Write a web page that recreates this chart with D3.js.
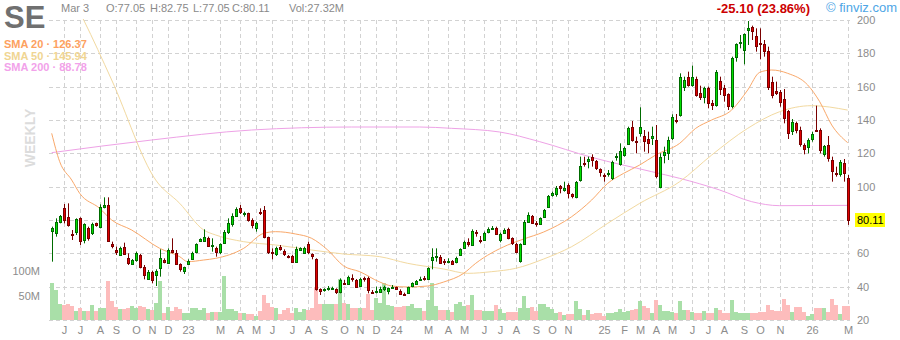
<html>
<head>
<title>SE weekly</title>
<script src="https://d3js.org/d3.v7.min.js"></script>
<style>
  body { margin: 0; background: #fff; }
  svg { font-family: Arial, "Liberation Sans", sans-serif; }
  .grid line { stroke: #d2d2d2; stroke-dasharray: 4,3; shape-rendering: crispEdges; }
  .axis text { fill: #8c8c8c; font-size: 11px; }
</style>
</head>
<body>
<svg width="900" height="340"></svg>
<script>
// weekly bars, May 9 2022 .. Mar 2 2026
const opens = [73,72.4,79,87,81.6,71.6,72.4,81,68,75.4,72,78,75.4,88,89,65.6,62,59,63.6,57,53.6,56,59,52,44.6,49,47,51,56,54.4,62,60.4,53.6,49,54,56.6,60.4,67.4,67.4,69,64.4,
  63,60.6,66.4,72.4,77.4,82.4,87,83.4,84,80,75.6,85,86,69.6,61,59.6,64,61.4,58.4,58.4,55,62,60.4,65.4,59.4,56.6,38.4,37.6,38.6,38.8,38.4,36.6,42.4,41.6,45,44,40.4,45,45,37,36.8,
  36.8,38.6,37,39.4,39.6,37.6,35.8,36,40,41.6,44.6,45,44.6,56,58,58,55.2,55.2,55.4,54.4,59,63.4,67,65.4,72.6,68,68.4,72.4,74.6,75,68,72,74.6,69,65.6,55,65.4,79,82.4,78.2,77.6,81.6,
  88,94.6,95.4,100.4,98,100.8,95.4,93.4,104,114,115.4,117.6,115.4,110.6,107,107.6,105,118,114,119,125.6,136,127.6,132,130.4,128.6,129,128,100,119.4,120.4,129,140,143,
  160,166,161,164.6,156,153.6,159,150,149,163.6,159,155.4,148,177.4,186.6,182,194,196,190.6,186,185.8,181.4,163,157.4,156.6,152.4,145.4,133.4,138,134,125,124,128.4,134,134,119.4,125,116,108.4,107.6,114,105.5];
const highs = [76,81,83,89.6,90,74,81,81.6,78,76,78.4,78.4,89.4,93.6,93.6,67,64,64,66.4,60,56.6,61,59.6,53,50,49.6,50.4,62.4,57,63,69,62,54,52,56.4,61,66,69,74.4,70,69,
  64,66,74,81,84,87.6,89,85,84.4,81,79,87,88.4,70,63,64,65,62.4,59,59,64,63.6,64,67,60,57,39,39,40.4,40,39,45,44,46.6,47.4,44.6,45.4,46,46,38,40,
  40,40.6,39.4,41,40,38.4,36.4,40,42.6,44,46,46.4,51.6,63,63,59,56.6,57,56,58,63,67.6,69,74.4,74,70.4,73,75.6,76.4,76,72.4,75,75.4,69.6,66.4,66,80,84.6,83,79.4,81.6,86.6,
  95,97,100.4,101,103,102,96,103.4,118,118,118,119.4,116,111,108,110,115.6,120,126,124,136,139.4,130,147.6,134,133,136,137,120,124,130,143.4,143.6,168,
  166,169,172.6,166,160.6,160,160,152,170,166,161,156,178,186,191,192,199.4,196.6,195,195,188,184,166,163,158,158.6,146,140.6,139,136,126,129,133,148.6,135,125,130.4,118,112,116,116.6,107];
const lows = [55,70,78,78,76,68,71,65,66,67.6,71,76,75,87,67,63,59,58.4,59,53,53,55,51,44.4,44,42,40.4,46,54,54,60,53.6,49,47.6,53,56,60,67,67,64,61,
  58,59.6,66,71.6,76,82,83.6,82,79,75,73,83,69,59.6,56.4,58.4,61.6,58.4,57,54.4,54.4,61.6,60,59.6,56.4,37.6,35,37,37.6,38,35.6,36,41,41,43,39.6,40,43,36,36,36,
  36.4,37.4,35.4,38.6,38,35.4,34.4,35.6,39.6,41,44,43.6,44,50.4,55,54,53,54,53,54,58.6,63,64,65,70,66,68,72,74,71,66.6,71.6,68.4,65,60,54.4,65,78.4,78,76,77,81.4,
  87.6,94,94,96,97,93,93,93,103,112,111,112,110,106,103,106,104,115.6,112.6,118,125,127,120,130,121,120,125,105,99,114,116,128,138,142,
  157.4,160,160,154,152,150,147,146,148,155,151,146,147,175,183,173.4,185,188,181,176.4,178,158,153,155,148,138,128.6,131,132,124,119.4,120,127,133,120,118,115,103,106,106,103,77.05];
const closes = [75,79,82.6,79.6,77,70.8,80.4,67.4,77.4,69.6,77.4,77,87.6,89,67.6,64.4,61,63,59.6,54,56,60,51.6,47,49,44.4,49.4,57,54.8,62,61,54,50.4,51.6,55.6,60,65.4,68.4,70,64.4,64.8,
  60.6,65.6,73,78,82.4,86.4,84.4,84,79.6,77,78.4,84.6,69.6,60.4,60.4,63,62.6,59.6,58,55,62.6,63,63.4,60.4,58,38.4,37,38.4,39,39,36.6,44,42,45.6,44.6,40,44.6,44.6,37.6,36.8,37.2,
  38.8,40,39,39.8,38.4,36,35.6,39.6,42,43.6,44.8,44.8,51,57.6,58.2,54.6,55,55.6,53.6,57,62.4,67,65.6,73.6,72,67.6,72.4,74.4,75,71.6,71.6,74,69,66,61,65.4,78.8,83,78.4,78,81,86,
  94.4,96,99,99,99.4,96,94,102.6,112.6,113.6,116.4,116,111,109,106.6,108,114.6,118.4,121.6,123,135,128,127.4,135.6,127.6,126.4,130.4,106.6,118,121,128,141.6,139.6,166,
  164,161,166,155,153.6,159,150,148.6,168.6,158.6,155,148,177,185.4,187,191.4,195.4,193.4,184.6,185.8,181.4,160,155,156.4,150.6,141,132,138.6,134,125.4,122.6,128,131.6,133.6,122,124.4,117,109.4,108,114.6,108,80.11];
const volumes = [77,62,33,31,33,29,18,25,18,19,31,18,24,25,81,38,27,23,23,24,29,25,29,27,23,21,34,80,15,27,19,27,23,14,14,24,25,21,25,15,17,
  16,17,90,22,22,19,14,15,12,12,8,19,51,34,27,24,12,20,24,14,25,17,22,20,24,68,33,33,33,33,33,85,34,33,24,24,24,24,53,20,45,
  35,75,31,28,27,27,29,29,33,25,25,19,42,75,29,20,20,20,17,32,36,29,31,51,20,20,18,18,18,31,23,15,17,17,17,24,49,24,26,19,33,33,
  26,22,14,16,10,12,12,38,22,10,20,12,15,15,8,14,14,17,22,17,19,20,22,40,29,24,15,41,31,19,19,17,15,38,
  20,20,17,15,15,18,15,15,25,20,15,15,41,17,15,15,15,15,15,17,17,31,20,18,18,43,31,17,27,27,17,8,12,24,24,24,17,43,31,12,29,28];

// moving averages at sample weeks (week index)
const sma20Weeks = [0,2,5,7,12,15,20,27,32,34,38,41,48,53,56,61,65,69,73,77,82,85,89,94,98,103,106,114,118,123,130,135,139,143,147,151,157,161,165,170,174,177,180,184,189,192,195,199];
const sma20 = [132,115,104,96,87,80,74,63,58,55,56,57,63,72,73,71.6,69,62,52.4,49,42.8,40.4,39.8,40.4,42.8,48,54,65,68.6,72.8,82,92,102,108,113,119,126,135,140,146,158,168.6,170,168,161,151,137,126.37];
const sma50Weeks = [0,8,15,26,32,38,41,48,56,65,73,82,89,98,104,110,116,123,130,139,147,157,165,174,182,190,199];
const sma50 = [236,200,164,104,90,74,71,67,65,62,59.6,58,54,50.6,48,49,51,56.6,64,78,90,103,119,135,145,148.6,145.94];
const sma200Weeks = [0,25,50,75,92,100,112,122,135,150,157,167,175,182,199];
const sma200 = [120.4,128,134,135.8,135.8,135,132.8,127,117.6,109,105,98,91,88.6,88.78];

const priceTicks = [20,40,60,80,100,120,140,160,180,200];
const volTicks = [50,100];
const volLabels = ['50M','100M'];
const tickMonths = ['2022-06','2022-07','2022-08','2022-09','2022-10','2022-11','2022-12','2023-01','2023-03','2023-04','2023-05','2023-06','2023-07','2023-08','2023-09','2023-10','2023-11','2023-12',
  '2024-01','2024-03','2024-04','2024-05','2024-06','2024-07','2024-08','2024-09','2024-10','2024-11','2025-01','2025-02','2025-03','2025-04','2025-05','2025-06','2025-07','2025-08','2025-09','2025-10','2025-11','2026-01','2026-03'];
const tickLabels = ['J','J','A','S','O','N','D','23','M','A','M','J','J','A','S','O','N','D','24','M','A','M','J','J','A','S','O','N','25','F','M','A','M','J','J','A','S','O','N','26','M'];

const svg = d3.select('svg');
const weeks = d3.timeMonday.range(new Date(2022, 4, 9), new Date(2026, 2, 3));
const bars = weeks.map((w, i) => ({ w, o: opens[i], h: highs[i], l: lows[i], c: closes[i], v: volumes[i] }));

const x = d3.scaleBand().domain(weeks).range([49.7, 849.7]);
const cx = w => Math.round(x(w) + x.bandwidth() / 2);
const y = d3.scaleLinear().domain([20, 200]).range([320, 20]);
const yv = d3.scaleLinear().domain([0, 100]).range([320, 271.3]);

function monthWeek(s) {
  const [yy, mm] = s.split('-').map(Number);
  let d = new Date(yy, mm - 1, 1);
  while (d.getDay() === 0 || d.getDay() === 6) d = d3.timeDay.offset(d, 1);
  return d3.timeMonday.floor(d);
}
const ticks = tickMonths.map((m, i) => ({ w: monthWeek(m), label: tickLabels[i] }));
const last = bars[bars.length - 1];

svg.append('clipPath').attr('id', 'plot')
  .append('rect').attr('x', 49).attr('y', 19).attr('width', 803).attr('height', 302);

// grid
const grid = svg.append('g').attr('class', 'grid');
grid.selectAll('.h').data(priceTicks).join('line').attr('class', 'h')
  .attr('x1', 49).attr('x2', 850)
  .attr('y1', d => Math.round(y(d)) + 0.5).attr('y2', d => Math.round(y(d)) + 0.5);
grid.selectAll('.v').data(ticks).join('line').attr('class', 'v')
  .attr('x1', d => cx(d.w) + 0.5).attr('x2', d => cx(d.w) + 0.5)
  .attr('y1', 20).attr('y2', 320);

const plot = svg.append('g').attr('clip-path', 'url(#plot)');

// volume
plot.append('g').selectAll('rect').data(bars).join('rect')
  .attr('x', d => cx(d.w) - 2)
  .attr('width', 4)
  .attr('y', d => yv(d.v))
  .attr('height', d => 320 - yv(d.v))
  .attr('fill', d => d.c >= d.o ? '#a9dfa8' : '#fdbcbc')
  .attr('shape-rendering', 'crispEdges');

// moving averages
const line = d3.line().curve(d3.curveMonotoneX);
const smaLines = [
  { idx: sma200Weeks, vals: sma200, color: '#eea2e6' },
  { idx: sma50Weeks, vals: sma50, color: '#f2d9a0' },
  { idx: sma20Weeks, vals: sma20, color: '#f9a86a' }
];
plot.selectAll('path.sma').data(smaLines).join('path').attr('class', 'sma')
  .attr('fill', 'none')
  .attr('stroke', d => d.color)
  .attr('stroke-width', 1)
  .attr('d', d => line(d.idx.map((k, j) => [x(weeks[k]) + x.bandwidth() / 2, y(d.vals[j])])));

// candles
const candle = plot.append('g').selectAll('g').data(bars).join('g');
candle.append('line')
  .attr('x1', d => cx(d.w) + 0.5).attr('x2', d => cx(d.w) + 0.5)
  .attr('y1', d => y(d.h)).attr('y2', d => y(d.l))
  .attr('stroke', d => d.c >= d.o ? '#006b00' : '#7a0000');
candle.append('rect')
  .attr('x', d => cx(d.w) - 0.5)
  .attr('width', 2)
  .attr('y', d => Math.round(y(Math.max(d.o, d.c))) + 0.5)
  .attr('height', d => Math.max(1, Math.round(Math.abs(y(d.o) - y(d.c)))))
  .attr('fill', d => d.c >= d.o ? '#00e000' : '#e00000')
  .attr('stroke', d => d.c >= d.o ? '#006b00' : '#7a0000');

// axes (the tick hidden under the last price tag is skipped)
const axis = svg.append('g').attr('class', 'axis');
axis.selectAll('.py').data(priceTicks.filter(t => Math.abs(y(t) - y(last.c)) > 10)).join('text').attr('class', 'py')
  .attr('x', 857).attr('y', d => y(d) + 4).text(d => d);
axis.selectAll('.mx').data(ticks).join('text').attr('class', 'mx')
  .attr('x', d => cx(d.w) + 0.5).attr('y', 334).attr('text-anchor', 'middle').text(d => d.label);
axis.selectAll('.vy').data(volTicks).join('text').attr('class', 'vy')
  .attr('x', 40).attr('y', d => yv(d) + 4).attr('text-anchor', 'end').text((d, i) => volLabels[i]);

// last price tag
svg.append('rect').attr('x', 855).attr('y', Math.round(y(last.c)) - 7).attr('width', 30).attr('height', 14).attr('fill', '#ffff00');
svg.append('text').attr('x', 857).attr('y', y(last.c) + 4).attr('font-size', 11).attr('fill', '#000').text(last.c.toFixed(2));

// header
svg.append('text').attr('x', 4).attr('y', 28).attr('font-size', 31).attr('font-weight', 'bold').attr('fill', '#707070').text('SE');
const hdr = [['Mar 3', 61], ['O:77.05', 106], ['H:82.75', 150], ['L:77.05', 193], ['C:80.11', 232], ['Vol:27.32M', 289]];
svg.selectAll('.hdr').data(hdr).join('text').attr('class', 'hdr')
  .attr('x', d => d[1]).attr('y', 12).attr('font-size', 11).attr('fill', '#8a8a8a').text(d => d[0]);
svg.append('text').attr('x', 810).attr('y', 13).attr('text-anchor', 'end').attr('font-size', 13).attr('font-weight', 'bold').attr('fill', '#cc0000').text('-25.10 (23.86%)');
svg.append('text').attr('x', 897).attr('y', 12).attr('text-anchor', 'end').attr('font-size', 13).attr('fill', '#4ea6e6').text('\u00a9 finviz.com');

const legend = [['SMA 20', '126.37', '#fda15f'], ['SMA 50', '145.94', '#f0d592'], ['SMA 200', '88.78', '#f2a2ea']];
const lg = svg.selectAll('.lg').data(legend).join('g').attr('class', 'lg')
  .attr('transform', (d, i) => `translate(4, ${48 + i * 11.5})`)
  .attr('font-size', 11).attr('font-weight', 'bold').attr('fill', d => d[2]);
lg.append('text').text(d => d[0] + ' \u00b7 ' + d[1]);

svg.append('text').attr('transform', 'translate(35, 138) rotate(-90)').attr('text-anchor', 'middle')
  .attr('font-size', 14).attr('font-weight', 'bold').attr('fill', '#dcdcdc').text('WEEKLY');
</script>
</body>
</html>
